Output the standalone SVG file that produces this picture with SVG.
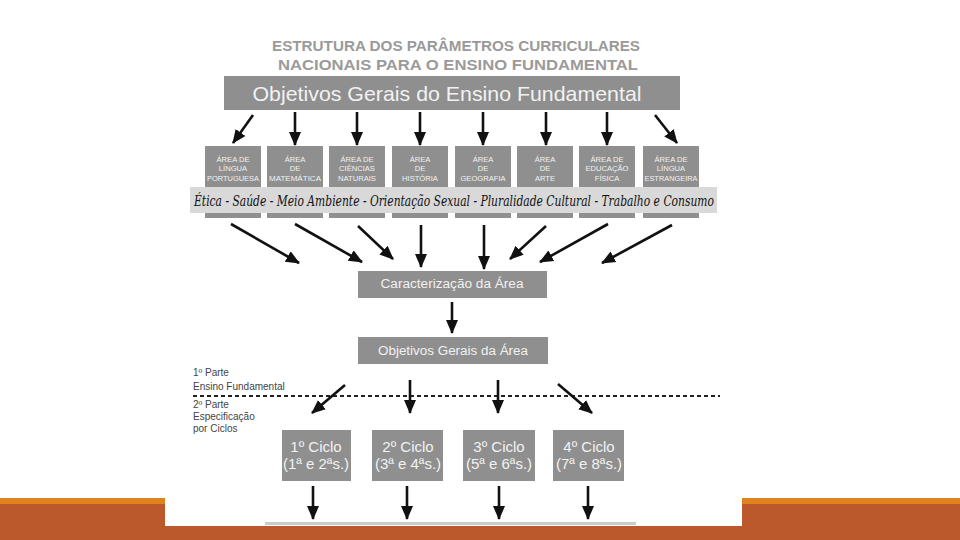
<svg xmlns="http://www.w3.org/2000/svg" width="960" height="540" viewBox="0 0 960 540">
<defs>
<marker id="ah" markerUnits="userSpaceOnUse" markerWidth="14" markerHeight="14" viewBox="0 0 14 14" refX="13" refY="7" orient="auto">
<path d="M0,1 L14,7 L0,13 Z" fill="#111"/>
</marker>
</defs>
<style>
.box{fill:#8f8f8f}
.bt{fill:#f2f2f2;font-family:"Liberation Sans","DejaVu Sans",sans-serif;text-anchor:middle}
.sm{font-size:7.6px}
.ar{stroke:#111;stroke-width:2.6;fill:none;marker-end:url(#ah)}
.lbl{fill:#444;font-family:"Liberation Sans","DejaVu Sans",sans-serif;font-size:10px}
</style>
<rect width="960" height="540" fill="#ffffff"/>
<rect x="0" y="498" width="960" height="6" fill="#e0821e"/>
<rect x="0" y="504" width="960" height="36" fill="#bb582c"/>
<rect x="165" y="0" width="577" height="526" fill="#ffffff"/>
<rect x="265" y="522" width="371" height="3" fill="#cacaca"/>

<g id="title" fill="#9a9a9a" font-family="Liberation Sans, DejaVu Sans, sans-serif" font-weight="bold" font-size="15" text-anchor="middle">
<text x="456" y="51" textLength="368" lengthAdjust="spacingAndGlyphs">ESTRUTURA DOS PARÂMETROS CURRICULARES</text>
<text x="458" y="70" textLength="360" lengthAdjust="spacingAndGlyphs">NACIONAIS PARA O ENSINO FUNDAMENTAL</text>
</g>

<g id="objetivos-gerais-ef">
<rect class="box" x="224" y="76" width="456" height="34" fill="#8a8a8a"/>
<text class="bt" x="447" y="101" font-size="21" textLength="389" lengthAdjust="spacingAndGlyphs">Objetivos Gerais do Ensino Fundamental</text>
</g>

<g id="areas">
<g id="area-portugues"><rect class="box" x="205" y="146" width="56" height="72"/>
<text class="bt sm" x="233" y="162">ÁREA DE</text><text class="bt sm" x="233" y="171">LÍNGUA</text><text class="bt sm" x="233" y="181" textLength="52" lengthAdjust="spacingAndGlyphs">PORTUGUESA</text></g>
<g id="area-matematica"><rect class="box" x="267" y="146" width="56" height="72"/>
<text class="bt sm" x="295" y="162">ÁREA</text><text class="bt sm" x="295" y="171">DE</text><text class="bt sm" x="295" y="181" textLength="52" lengthAdjust="spacingAndGlyphs">MATEMÁTICA</text></g>
<g id="area-ciencias"><rect class="box" x="329" y="146" width="56" height="72"/>
<text class="bt sm" x="357" y="162">ÁREA DE</text><text class="bt sm" x="357" y="171">CIÊNCIAS</text><text class="bt sm" x="357" y="181">NATURAIS</text></g>
<g id="area-historia"><rect class="box" x="392" y="146" width="56" height="72"/>
<text class="bt sm" x="420" y="162">ÁREA</text><text class="bt sm" x="420" y="171">DE</text><text class="bt sm" x="420" y="181">HISTÓRIA</text></g>
<g id="area-geografia"><rect class="box" x="455" y="146" width="56" height="72"/>
<text class="bt sm" x="483" y="162">ÁREA</text><text class="bt sm" x="483" y="171">DE</text><text class="bt sm" x="483" y="181">GEOGRAFIA</text></g>
<g id="area-arte"><rect class="box" x="517" y="146" width="56" height="72"/>
<text class="bt sm" x="545" y="162">ÁREA</text><text class="bt sm" x="545" y="171">DE</text><text class="bt sm" x="545" y="181">ARTE</text></g>
<g id="area-educacao-fisica"><rect class="box" x="579" y="146" width="56" height="72"/>
<text class="bt sm" x="607" y="162">ÁREA DE</text><text class="bt sm" x="607" y="171">EDUCAÇÃO</text><text class="bt sm" x="607" y="181">FÍSICA</text></g>
<g id="area-lingua-estrangeira"><rect class="box" x="643" y="146" width="56" height="72"/>
<text class="bt sm" x="671" y="162">ÁREA DE</text><text class="bt sm" x="671" y="171">LÍNGUA</text><text class="bt sm" x="671" y="181" textLength="53" lengthAdjust="spacingAndGlyphs">ESTRANGEIRA</text></g>
</g>

<g id="temas-transversais">
<rect x="190" y="187" width="527" height="26" fill="#d9d9d9"/>
<text x="194" y="206" fill="#111" font-family="DejaVu Serif, Liberation Serif, serif" font-style="italic" font-size="15" textLength="520" lengthAdjust="spacingAndGlyphs">Ética - Saúde - Meio Ambiente - Orientação Sexual - Pluralidade Cultural - Trabalho e Consumo</text>
</g>

<g id="caracterizacao">
<rect class="box" x="358" y="271" width="189" height="27"/>
<text class="bt" x="452" y="288" font-size="12.5" textLength="143" lengthAdjust="spacingAndGlyphs">Caracterização da Área</text>
</g>

<g id="objetivos-area">
<rect class="box" x="358" y="337" width="190" height="27"/>
<text class="bt" x="453" y="355" font-size="12.5" textLength="150" lengthAdjust="spacingAndGlyphs">Objetivos Gerais da Área</text>
</g>

<g id="partes">
<text class="lbl" x="193" y="376">1º Parte</text>
<text class="lbl" x="193" y="390">Ensino Fundamental</text>
<line x1="193" y1="396" x2="720" y2="396" stroke="#222" stroke-width="2" stroke-dasharray="4,3"/>
<text class="lbl" x="193" y="408">2º Parte</text>
<text class="lbl" x="193" y="420">Especificação</text>
<text class="lbl" x="193" y="432">por Ciclos</text>
</g>

<g id="ciclos" font-size="15">
<g id="ciclo1"><rect class="box" x="282" y="430" width="69" height="51"/>
<text class="bt" x="316" y="452">1º Ciclo</text><text class="bt" x="316" y="469">(1ª e 2ªs.)</text></g>
<g id="ciclo2"><rect class="box" x="372" y="430" width="71" height="51"/>
<text class="bt" x="408" y="452">2º Ciclo</text><text class="bt" x="408" y="469">(3ª e 4ªs.)</text></g>
<g id="ciclo3"><rect class="box" x="463" y="430" width="72" height="51"/>
<text class="bt" x="499" y="452">3º Ciclo</text><text class="bt" x="499" y="469">(5ª e 6ªs.)</text></g>
<g id="ciclo4"><rect class="box" x="553" y="430" width="71" height="51"/>
<text class="bt" x="589" y="452">4º Ciclo</text><text class="bt" x="589" y="469">(7ª e 8ªs.)</text></g>
</g>

<g id="connectors">
<line class="ar" x1="253" y1="115" x2="233" y2="143"/>
<line class="ar" x1="295" y1="112" x2="295" y2="145"/>
<line class="ar" x1="357" y1="112" x2="357" y2="145"/>
<line class="ar" x1="420" y1="112" x2="420" y2="145"/>
<line class="ar" x1="483" y1="112" x2="483" y2="145"/>
<line class="ar" x1="546" y1="112" x2="546" y2="145"/>
<line class="ar" x1="607" y1="112" x2="607" y2="145"/>
<line class="ar" x1="655" y1="115" x2="677" y2="143"/>

<line class="ar" x1="231" y1="224" x2="299" y2="263"/>
<line class="ar" x1="295" y1="224" x2="362" y2="262"/>
<line class="ar" x1="358" y1="226" x2="393" y2="259"/>
<line class="ar" x1="421" y1="225" x2="421" y2="267"/>
<line class="ar" x1="484" y1="225" x2="484" y2="269"/>
<line class="ar" x1="546" y1="226" x2="510" y2="259"/>
<line class="ar" x1="608" y1="224" x2="540" y2="262"/>
<line class="ar" x1="672" y1="225" x2="602" y2="263"/>

<line class="ar" x1="452" y1="302" x2="452" y2="333"/>

<line class="ar" x1="345" y1="385" x2="312" y2="413"/>
<line class="ar" x1="410" y1="380" x2="410" y2="413"/>
<line class="ar" x1="498" y1="380" x2="498" y2="413"/>
<line class="ar" x1="558" y1="384" x2="592" y2="413"/>

<line class="ar" x1="313" y1="486" x2="313" y2="519"/>
<line class="ar" x1="407" y1="486" x2="407" y2="519"/>
<line class="ar" x1="499" y1="486" x2="499" y2="519"/>
<line class="ar" x1="588" y1="486" x2="588" y2="519"/>
</g>
</svg>
